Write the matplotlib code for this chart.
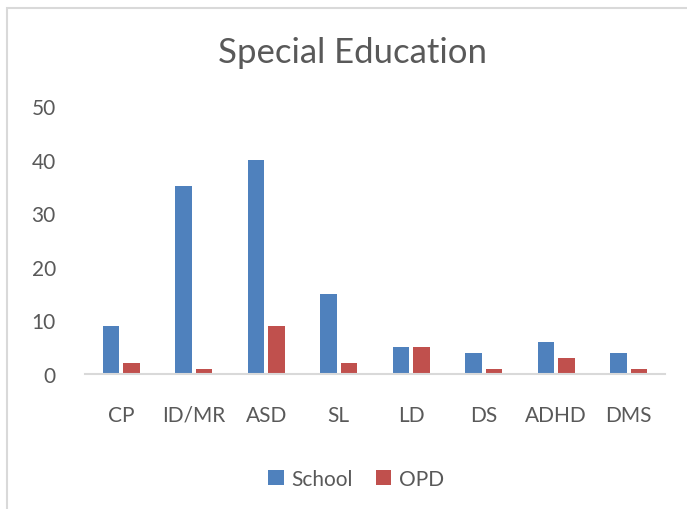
import matplotlib
matplotlib.use("Agg")
import matplotlib.pyplot as plt
import numpy as np
from matplotlib.patches import Rectangle

categories = ["CP", "ID/MR", "ASD", "SL", "LD", "DS", "ADHD", "DMS"]
school = [9, 35, 40, 15, 5, 4, 6, 4]
opd = [2, 1, 9, 2, 5, 1, 3, 1]
yticks = [0, 10, 20, 30, 40, 50]

plt.rcParams['font.family'] = ['Lato', 'DejaVu Sans']
W, H = 687, 510
fig = plt.figure(figsize=(W/100, H/100), dpi=100)

# chart border
fig.patches.append(Rectangle((6.5/W, -0.1), 2, 1 - 8.5/H + 0.1, transform=fig.transFigure,
                             fill=False, edgecolor='#D9D9D9', linewidth=1.5))

ax = fig.add_axes([85/W, 1 - 375/H, 580/W, (375 - 107)/H])
x = np.arange(len(categories))
bw = 0.225
ax.bar(x - bw/2 - 0.028, school, width=bw, color='#4F81BD', label='School')
ax.bar(x + bw/2 + 0.028, opd, width=bw, color='#C0504D', label='OPD')

ax.set_xlim(-0.5, len(categories) - 0.5)
ax.set_ylim(0, 50)
ax.set_yticks(yticks)
ax.set_xticks(x)
ax.set_xticklabels(categories)
for s in ['top', 'right', 'left']:
    ax.spines[s].set_visible(False)
ax.spines['bottom'].set_color('#D9D9D9')
ax.spines['bottom'].set_linewidth(1.5)
ax.tick_params(axis='both', length=0, labelsize=15, colors='#595959')
ax.tick_params(axis='x', pad=22)
ax.tick_params(axis='y', pad=21)

fig.text(352/W, 1 - 53/H, "Special Education", ha='center', va='center',
         fontsize=25, color='#595959')

leg = fig.legend(loc='center', bbox_to_anchor=(356/W, 1 - 480/H), ncol=2, frameon=False,
                 fontsize=15, handlelength=0.75, handleheight=0.75, handletextpad=0.35,
                 columnspacing=1.1, labelcolor='#595959')

fig.savefig("out.png", dpi=100, facecolor='white')
